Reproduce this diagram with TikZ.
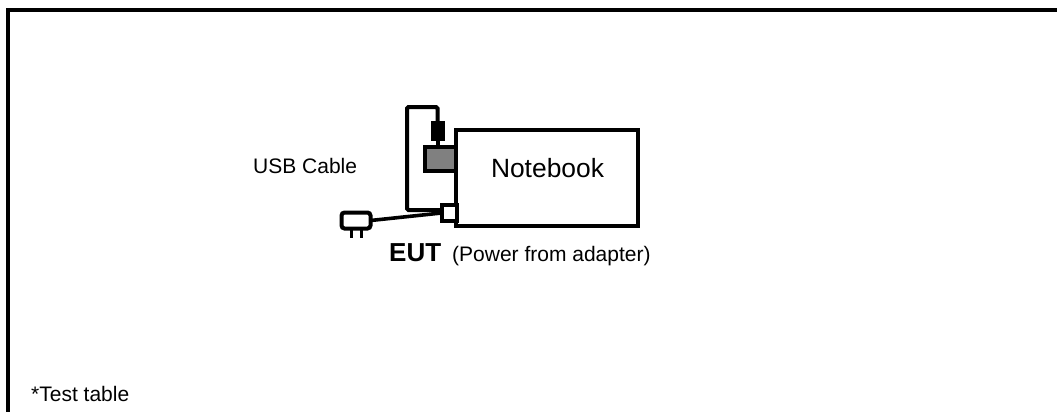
\documentclass[tikz,border=0pt]{standalone}
\usepackage{fontspec}
\setmainfont{Liberation Sans}
\usetikzlibrary{positioning,calc}
\definecolor{cPort}{HTML}{808080}
\tikzset{
  box/.style    ={draw=black,fill=white,line width=4pt,inner sep=0pt,outer sep=0pt},
  usbplug/.style={box,fill=cPort,minimum width=31pt,minimum height=24pt},
  ferrite/.style={box,fill=black,minimum width=10pt,minimum height=16pt},
  socket/.style ={box,minimum width=15pt,minimum height=16pt},
  adapter/.style={box,rounded corners=3pt,minimum width=29pt,minimum height=16pt},
  cable/.style  ={draw=black,line width=4pt,rounded corners=1.5pt},
  lead/.style   ={draw=black,line width=3.6pt},
  prong/.style  ={draw=black,line width=3pt},
  lbl/.style    ={font=\fontsize{21}{24}\selectfont,inner sep=0pt},
}
\begin{document}
\begin{tikzpicture}[x=1pt, y=-1pt]
\useasboundingbox (0,0) rectangle (1057,412);

% --- table edge, runs off the page on the right and at the bottom ---------
\coordinate (tl) at (8,10);
\draw[line width=4.5pt] (8,420) -- (tl) -- (1065,10);

\node[box,minimum width=182pt,minimum height=96pt,anchor=north west] (nb) at (456,130) {};
\node[font=\fontsize{26.4}{30}\selectfont,inner sep=0pt] (nbt) at (547.5,168) {Notebook};

\node[usbplug,anchor=east] (plug) at (nb.west |- 0,159) {};
\node[ferrite] (fer) at (437.5,130.5) {};
\node[socket,anchor=east] (sock) at (456.5,213) {};
\node[adapter] (ad) at (356,220.5) {};

% --- usb cable, round the back of the plug into the socket ----------------
\draw[cable] (fer.north) -- (fer.north |- 0,107) -- (407,107) -- (407,210) -- (sock.west |- 0,210);
\draw[cable] (fer.south) -- (fer.south |- plug.north);
% power lead
\draw[lead] (ad.east) -- (sock.west);
\draw[prong] ($(ad.south)+(-5,0)$) -- +(0,9);
\draw[prong] ($(ad.south)+(5,0)$) -- +(0,9);

\node[lbl,anchor=west] (usb) at (253,166) {USB Cable};
\node[lbl,anchor=base west] (eut) at (389,261) {\fontsize{26}{30}\selectfont\bfseries EUT};
\node[lbl,anchor=base west] (pwr) at (452,261) {(Power from adapter)};
\node[lbl,anchor=west] (tt) at (31,394) {*Test table};
\end{tikzpicture}
\end{document}
